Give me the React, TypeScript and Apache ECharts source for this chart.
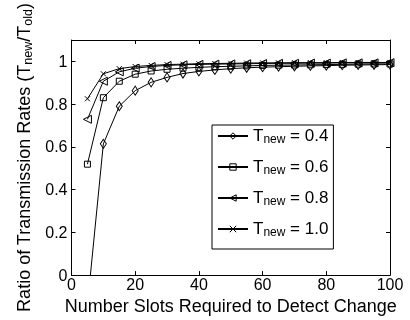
import React, { useEffect, useRef } from "react";
import * as echarts from "echarts";

const xValues = [5, 10, 15, 20, 25, 30, 35, 40, 45, 50, 55, 60, 65, 70, 75, 80, 85, 90, 95, 100];
const t04 = [-0.14, 0.614, 0.79, 0.863, 0.902, 0.925, 0.943, 0.953, 0.96, 0.966, 0.97, 0.973, 0.975, 0.977, 0.979, 0.98, 0.982, 0.983, 0.984, 0.985];
const t06 = [0.519, 0.83, 0.907, 0.94, 0.955, 0.963, 0.968, 0.972, 0.975, 0.977, 0.979, 0.981, 0.982, 0.983, 0.984, 0.985, 0.986, 0.987, 0.988, 0.988];
const t08 = [0.729, 0.907, 0.951, 0.968, 0.976, 0.981, 0.984, 0.986, 0.987, 0.988, 0.989, 0.99, 0.991, 0.991, 0.992, 0.992, 0.993, 0.993, 0.993, 0.994];
const t10 = [0.825, 0.942, 0.966, 0.976, 0.981, 0.985, 0.987, 0.989, 0.99, 0.991, 0.992, 0.993, 0.993, 0.994, 0.994, 0.994, 0.995, 0.995, 0.995, 0.995];
const seriesNames = ["0.4", "0.6", "0.8", "1.0"];
const xTitle = "Number Slots Required to Detect Change";

const FONT = "'Liberation Sans', Arial, Helvetica, sans-serif";

export default function App() {
  const ref = useRef<HTMLDivElement>(null);
  useEffect(() => {
    if (!ref.current) return;
    const chart = echarts.init(ref.current, undefined, { renderer: "svg" });
    const pair = (ys: number[]) => xValues.map((x, i) => [x, ys[i]]);
    const hollow = { color: "rgba(0,0,0,0)", borderColor: "#000", borderWidth: 1 };
    const common = (name: string, ys: number[], symbol: string, size: number | number[], rotate = 0) => ({
      type: "line",
      name,
      data: pair(ys),
      symbol,
      symbolSize: size,
      symbolRotate: rotate,
      showAllSymbol: true,
      clip: true,
      lineStyle: { color: "#000", width: 1 },
      itemStyle: hollow,
      emphasis: { disabled: true },
    });
    const tickStyle = { show: true, inside: true, length: 4, lineStyle: { color: "#000" } };
    const axisLineStyle = { show: true, onZero: false, lineStyle: { color: "#000", width: 1 } };
    chart.setOption({
      animation: false,
      textStyle: { fontFamily: FONT },
      grid: { left: 71.5, right: 20, top: 40, bottom: 40.5, containLabel: false },
      xAxis: [
        {
          type: "value", min: 0, max: 100, interval: 20,
          axisLine: axisLineStyle, axisTick: tickStyle, splitLine: { show: false },
          axisLabel: { color: "#000", fontSize: 16, margin: 1, fontFamily: FONT },
          name: xTitle, nameLocation: "middle", nameGap: 16,
          nameTextStyle: { color: "#000", fontSize: 18, fontFamily: FONT },
        },
        {
          type: "value", position: "top", min: 0, max: 100, interval: 20,
          axisLine: axisLineStyle, axisTick: tickStyle, splitLine: { show: false },
          axisLabel: { show: false },
        },
      ],
      yAxis: [
        {
          type: "value", min: 0, max: 1.1, interval: 0.2,
          axisLine: axisLineStyle, axisTick: tickStyle, splitLine: { show: false },
          axisLabel: { color: "#000", fontSize: 16, margin: 4, fontFamily: FONT, showMaxLabel: false,
            formatter: (v: number) => (v > 1.05 ? "" : String(Math.round(v * 10) / 10)) },
          name: "{m|Ratio of Transmission Rates (T}{s|new}{m|/T}{s|old}{m|)}",
          nameLocation: "middle", nameGap: 36, nameRotate: 90,
          nameTextStyle: {
            color: "#000", fontFamily: FONT,
            rich: {
              m: { fontSize: 18, lineHeight: 19, verticalAlign: "top", fontFamily: FONT, color: "#000" },
              s: { fontSize: 12.5, lineHeight: 12, padding: [13, 0, 0, 0], verticalAlign: "bottom", fontFamily: FONT, color: "#000" },
            },
          },
        },
        {
          type: "value", position: "right", min: 0, max: 1.1, interval: 0.2,
          axisLine: axisLineStyle, axisTick: tickStyle, splitLine: { show: false },
          axisLabel: { show: false },
        },
      ],
      legend: {
        left: 212, top: 125, orient: "vertical",
        backgroundColor: "#fff", borderColor: "#000", borderWidth: 1,
        padding: [-5, 5, 11, 5], itemGap: 6, itemWidth: 30, itemHeight: 8, itemTextGap: 3,
        selectedMode: false,
        itemStyle: hollow,
        formatter: (name: string) => `{t|T}{s|new}{t| = ${name}}`,
        textStyle: {
          fontFamily: FONT, color: "#000",
          rich: {
            t: { fontSize: 17, lineHeight: 18, verticalAlign: "top", fontFamily: FONT, color: "#000" },
            s: { fontSize: 12, lineHeight: 12, padding: [13, 0, 0, 0], verticalAlign: "bottom", fontFamily: FONT, color: "#000" },
          },
        },
        data: seriesNames,
      },
      series: [
        common(seriesNames[0], t04, "diamond", [6, 9]),
        common(seriesNames[1], t06, "rect", 6),
        common(seriesNames[2], t08, "triangle", 8, 90),
        common(seriesNames[3], t10, "path://M0,0L10,10M10,0L0,10", 5),
      ],
    });
    return () => chart.dispose();
  }, []);
  return <div ref={ref} style={{ position: "fixed", left: 0, top: 0, width: 410, height: 320 }} />;
}
